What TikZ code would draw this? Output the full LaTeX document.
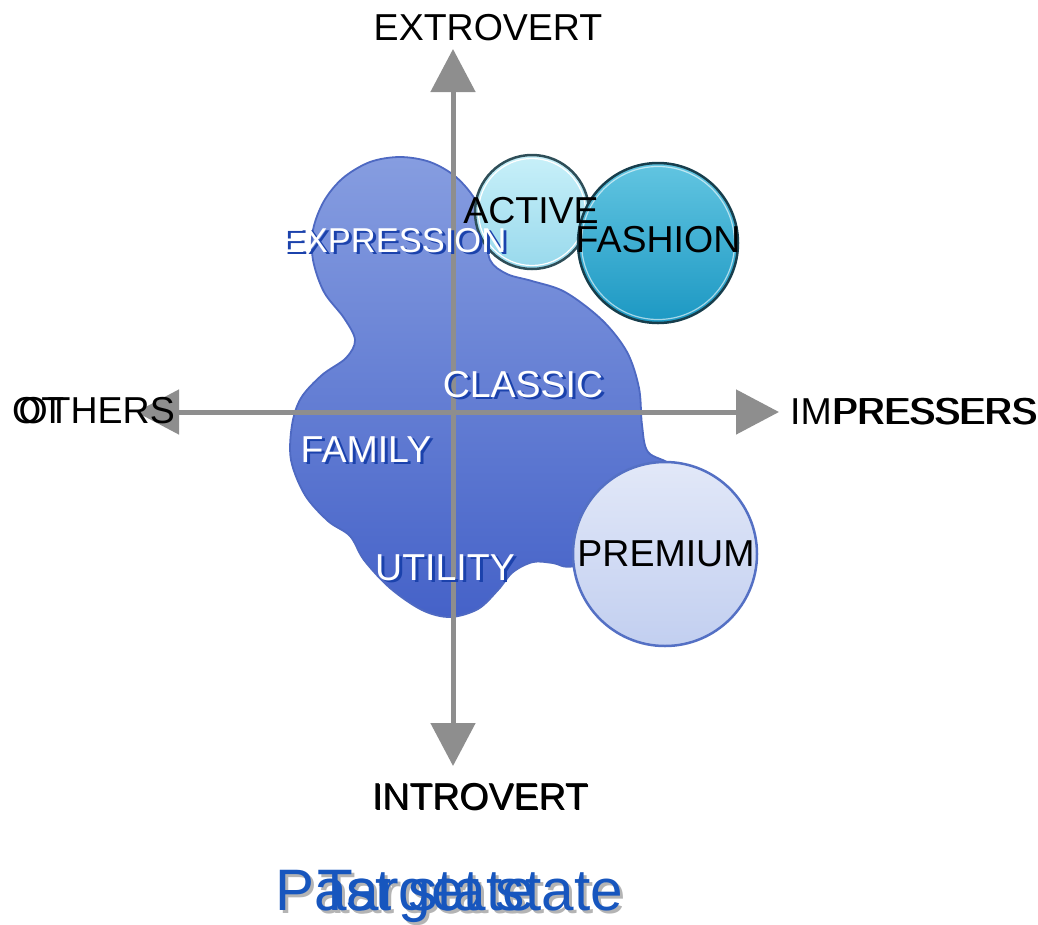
\documentclass[tikz,border=0pt]{standalone}
\usepackage{fontspec}
\setmainfont{Liberation Sans}
\usetikzlibrary{arrows.meta}
\definecolor{axisgray}{HTML}{8E8E8E}
\definecolor{blobtop}{HTML}{869DE0}
\definecolor{blobbot}{HTML}{4562C8}
\definecolor{bloboutline}{HTML}{4E69C2}
\definecolor{labshadow}{HTML}{1B42AC}
\definecolor{acttop}{HTML}{C8F0F9}
\definecolor{actbot}{HTML}{98D9EC}
\definecolor{actline}{HTML}{2E4E58}
\definecolor{fashtop}{HTML}{62C5E1}
\definecolor{fashbot}{HTML}{1C98C3}
\definecolor{fashline}{HTML}{173E4C}
\definecolor{premtop}{HTML}{E2E8F8}
\definecolor{prembot}{HTML}{C2CFF0}
\definecolor{premline}{HTML}{5470C4}
\definecolor{titleblue}{HTML}{1756BE}
\definecolor{titleshadow}{HTML}{B4B4B4}
\tikzset{
  x=1pt, y=-1pt,
  lab/.style={inner sep=0pt, anchor=base, font=\fontsize{37.5pt}{40pt}\selectfont},
  blacklab/.style={lab, text=black},
  whitelab/.style={lab, text=white},
  bluelabshadow/.style={lab, text=labshadow},
  titlelab/.style={inner sep=0pt, anchor=base west, font=\fontsize{58.5pt}{62pt}\selectfont, text=titleblue},
  titleshadowlab/.style={titlelab, text=titleshadow},
  axisline/.style={draw=axisgray, line width=5pt,
     {Triangle[length=43pt,width=44pt,fill=axisgray]}-{Triangle[length=43pt,width=44pt,fill=axisgray]}},
}
\begin{document}
\begin{tikzpicture}
\useasboundingbox (0,0) rectangle (1038,924);

% main blob
\shadedraw[top color=blobtop, bottom color=blobbot, draw=bloboutline, line width=1.8pt]
  plot[smooth cycle, tension=0.55] coordinates {
  (400,157) (430,162) (456,177) (476,201) (486,230) (490,260) (507,274) (532,281)
  (565,292) (602,320) (627,352) (639,388) (642,425) (648,452) (672,466)
  (690,500) (640,545) (575,566) (553,563) (533,562) (513,572) (498,590)
  (478,609) (450,617) (422,610) (390,588) (364,560) (350,536) (328,521)
  (305,495) (291,460) (292,425) (301,398) (322,375) (346,358) (355,340)
  (344,318) (324,292) (313,260) (313,230) (324,201) (343,178) (370,162)};

% circles
\shadedraw[top color=acttop, bottom color=actbot, draw=actline, line width=2.5pt]
  (532,212) circle[radius=57];
\draw[white, line width=1.2pt] (532,212) circle[radius=53.5];
\shadedraw[top color=fashtop, bottom color=fashbot, draw=fashline, line width=2.5pt]
  (658,243) circle[radius=80];
\draw[white, opacity=0.6, line width=1.2pt] (658,243) circle[radius=76.5];
\shadedraw[top color=premtop, bottom color=prembot, draw=premline, line width=2.5pt]
  (665,554) circle[radius=92];

% axes
\coordinate (north) at (453,49);
\coordinate (south) at (453,766);
\coordinate (west) at (136,412);
\coordinate (east) at (779,412);
\draw[axisline] (south) -- (north);
\draw[axisline] (west) -- (east);

% axis labels
\node[blacklab] (extro) at (488,40) {EXTROVERT};
\node[blacklab] (intro-s) at (481,810.5) {INTROVERT};
\node[blacklab] (intro) at (480,809) {INTROVERT};
\node[blacklab, anchor=base east] (others) at (175,423) {OTHERS};
\node[blacklab, anchor=base west] (others-b) at (12,423) {OT};
\node[blacklab, anchor=base west] (impr) at (790,424) {IMPRESSERS};
\node[blacklab, anchor=base west] (impr-b) at (833.5,424) {PRESSERS};

% segment labels
\node[bluelabshadow, font=\fontsize{34.5pt}{38pt}\selectfont] (expr-s) at (397,254) {EXPRESSION};
\node[whitelab, font=\fontsize{34.5pt}{38pt}\selectfont] (expr) at (394,252) {EXPRESSION};
\node[bluelabshadow] (classic-s) at (526,399) {CLASSIC};
\node[whitelab] (classic) at (523,397) {CLASSIC};
\node[bluelabshadow] (family-s) at (369,464) {FAMILY};
\node[whitelab] (family) at (366,462) {FAMILY};
\node[bluelabshadow] (utility-s) at (448,582) {UTILITY};
\node[whitelab] (utility) at (445,580) {UTILITY};
\node[blacklab] (active) at (531,223) {ACTIVE};
\node[blacklab] (fashion) at (658,252) {FASHION};
\node[blacklab] (premium) at (666,566) {PREMIUM};

% title
\node[titleshadowlab] (past-s) at (278,913) {Past state};
\node[titleshadowlab] (target-s) at (320,913) {Target state};
\node[titlelab] (past) at (275,910) {Past state};
\node[titlelab] (target) at (317,910) {Target state};
\end{tikzpicture}
\end{document}
